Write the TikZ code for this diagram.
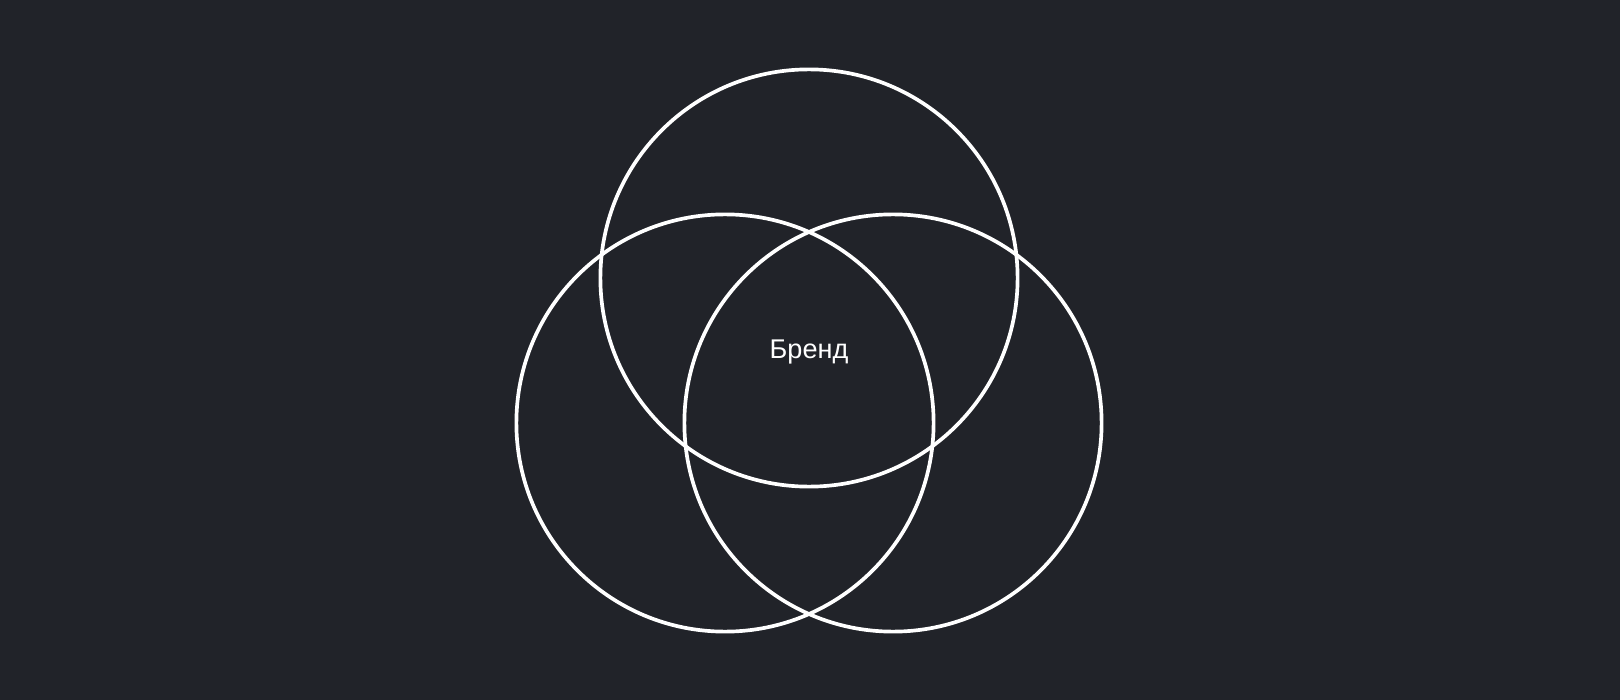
\documentclass[tikz,border=0pt]{standalone}
\usepackage{fontspec}
\setmainfont{Liberation Sans}
\usetikzlibrary{positioning}
\definecolor{bgdark}{HTML}{212329}

\begin{document}
\begin{tikzpicture}[
  x=0.01cm, y=-0.01cm,
  ring/.style={draw=white, circle, line width=1.05pt, minimum size=4.17cm, inner sep=0pt},
  label/.style={text=white, font=\fontsize{7.7}{9}\selectfont}
]

\fill[bgdark] (0,0) rectangle (1620,700);
\useasboundingbox (0,0) rectangle (1620,700);

\node[ring] (top)   at (809,278) {};
\node[ring] (left)  at (725,423) {};
\node[ring] (right) at (893,423) {};

\node[label] (brand) at (809,352) {Бренд};

\end{tikzpicture}
\end{document}
